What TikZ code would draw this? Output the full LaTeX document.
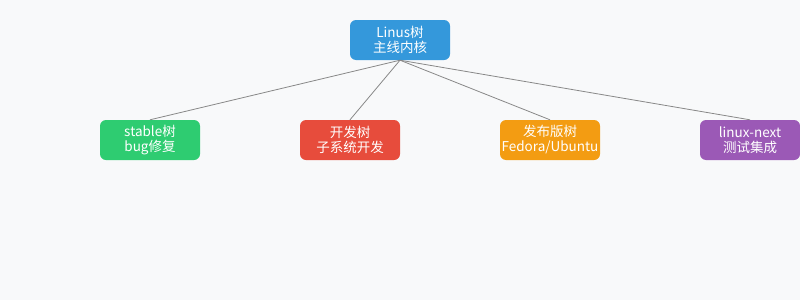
\documentclass[tikz,border=0pt]{standalone}
\usepackage{fontspec}
\setmainfont{Noto Sans CJK SC}
\definecolor{bg}{HTML}{F8F9FA}
\definecolor{cblue}{HTML}{3498DB}
\definecolor{cgreen}{HTML}{2ECC71}
\definecolor{cred}{HTML}{E74C3C}
\definecolor{corange}{HTML}{F39C12}
\definecolor{cpurple}{HTML}{9B59B6}
\definecolor{edge}{HTML}{888888}
\tikzset{
  box/.style={rounded corners=6pt, minimum width=100pt, minimum height=40pt, inner sep=0pt, text=white, align=center, font=\fontsize{13.5}{15}\selectfont},
  conn/.style={draw=edge, line width=0.8pt}
}
\begin{document}
\begin{tikzpicture}[x=1pt,y=-1pt]
\fill[bg] (0,0) rectangle (800,300);
\useasboundingbox (0,0) rectangle (800,300);
\node[box, fill=cblue] (root) at (400,40) {Linus树\\主线内核};
\node[box, fill=cgreen] (stable) at (150,140) {stable树\\bug修复};
\node[box, fill=cred] (dev) at (350,140) {开发树\\子系统开发};
\node[box, fill=corange] (dist) at (550,140) {发布版树\\Fedora/Ubuntu};
\node[box, fill=cpurple] (next) at (750,140) {linux-next\\测试集成};
\draw[conn] (root.south) -- (stable.north);
\draw[conn] (root.south) -- (dev.north);
\draw[conn] (root.south) -- (dist.north);
\draw[conn] (root.south) -- (next.north);
\end{tikzpicture}
\end{document}
